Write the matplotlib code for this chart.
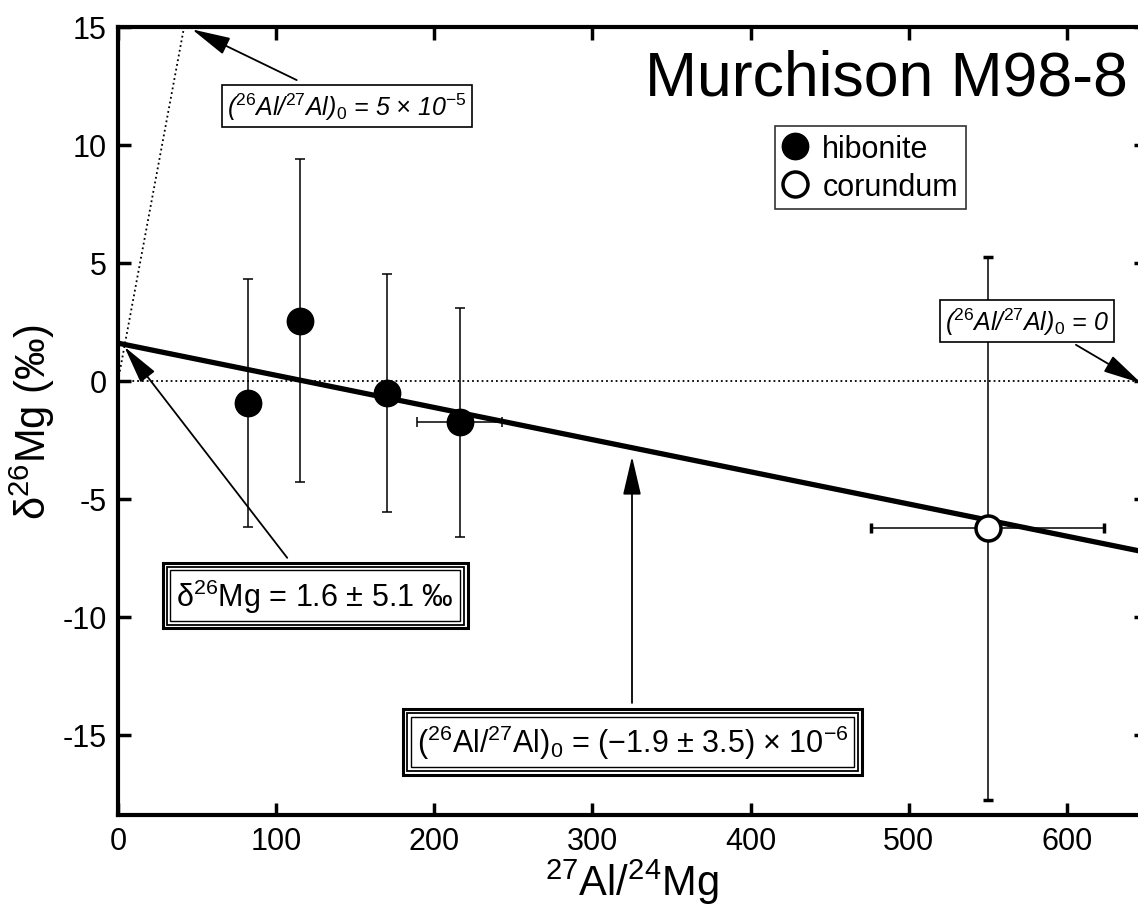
import numpy as np
import matplotlib
matplotlib.use("Agg")
import matplotlib.pyplot as plt

plt.rcParams["font.family"] = ["Liberation Sans", "DejaVu Sans"]
plt.rcParams["mathtext.fontset"] = "custom"
plt.rcParams["mathtext.rm"] = "Liberation Sans"
plt.rcParams["mathtext.it"] = "Liberation Sans:italic"
plt.rcParams["mathtext.bf"] = "Liberation Sans:bold"

# データ (hibonite / corundum)
hib_x = [82, 115, 170, 216]
hib_y = [-0.95, 2.55, -0.5, -1.75]
hib_xerr = [0, 0, 0, 26.7]
hib_yerr = [5.25, 6.85, 5.05, 4.85]

cor_x = [550]
cor_y = [-6.25]
cor_xerr = [73.7]
cor_yerr = [11.5]

intercept = 1.6
al_ratio_fit = -1.9e-6
al_ratio_ref = 5e-5
mg_ratio = 0.13932  # 26Mg/24Mg

xticks = [0, 100, 200, 300, 400, 500, 600]
yticks = [15, 10, 5, 0, -5, -10, -15]

fig = plt.figure(figsize=(11.38, 9.2), dpi=100)
ax = fig.add_axes([118 / 1138, 104 / 920, 1028 / 1138, 788 / 920])
ax.set_xlim(0, 650)
ax.set_ylim(-18.4, 15)

# 基準線
ax.axhline(0, color="k", linestyle=":", lw=1.3, zorder=1)
xs = np.array([0, 650])
ax.plot(xs, al_ratio_ref / mg_ratio * 1000 * xs, color="k", linestyle=":", lw=1.3, zorder=1)
ax.plot(xs, intercept + al_ratio_fit / mg_ratio * 1000 * xs, color="k", lw=3.8, zorder=2)

ax.errorbar(hib_x, hib_y, xerr=hib_xerr, yerr=hib_yerr, fmt="o", color="k",
            ms=19, elinewidth=1.1, capsize=3.6, capthick=1.1, zorder=3)
ax.errorbar(cor_x, cor_y, xerr=cor_xerr, yerr=cor_yerr, fmt="o", color="k",
            mfc="white", mec="k", mew=2.5, ms=18, elinewidth=1.1, capsize=3.6,
            capthick=1.1, zorder=3)

# 凡例
ax.plot([], [], "o", color="k", ms=19, label="hibonite")
ax.plot([], [], "o", mfc="white", mec="k", mew=2.5, ms=18, label="corundum")
handles, labels = ax.get_legend_handles_labels()
leg = ax.legend(handles[-2:], labels[-2:], loc="upper left", bbox_to_anchor=(0.639, 0.874),
                borderaxespad=0, fontsize=22, frameon=True, fancybox=False,
                handlelength=0.8, handletextpad=0.5, borderpad=0.25, labelspacing=0.25)
leg.get_frame().set_edgecolor("k")
leg.get_frame().set_linewidth(1.2)

# 矢印
arrow = dict(arrowstyle="-|>,head_length=1.2,head_width=0.28", color="k", lw=1.3,
             mutation_scale=20, shrinkA=0, shrinkB=0)
ax.annotate("", xy=(46.8, 14.9), xytext=(113, 12.75), arrowprops=arrow, annotation_clip=False)
ax.annotate("", xy=(647, -0.1), xytext=(605.7, 1.53), arrowprops=arrow, annotation_clip=False)
ax.annotate("", xy=(4, 1.45), xytext=(107, -7.5), arrowprops=arrow)
ax.annotate("", xy=(325, -3.2), xytext=(325, -13.65), arrowprops=arrow)

# ラベルボックス
def boxed(x, y, s, fs, style="normal", pads=(0.2,), lws=(1.2,)):
    for i, (p, w) in enumerate(zip(pads, lws)):
        ax.text(x, y, s, fontsize=fs, ha="center", va="center", style=style,
                color="k" if i == 0 else "none",
                bbox=dict(boxstyle=f"square,pad={p}", fc="white" if i == 0 else "none",
                          ec="k", lw=w), zorder=5 - i * 0.1)

sup = lambda s: r"$\mathregular{^{" + s + "}}$"
sub = lambda s: r"$\mathregular{_{" + s + "}}$"
isup = lambda s: r"$\mathit{^{" + s + "}}$"
isub = lambda s: r"$\mathit{_{" + s + "}}$"

boxed(144.6, 11.65, "(" + isup("26") + "Al/" + isup("27") + "Al)" + isub("0") + " = 5 × 10" + isup("-5"),
      18, style="italic")
boxed(574.7, 2.54, "(" + isup("26") + "Al/" + isup("27") + "Al)" + isub("0") + " = 0",
      18, style="italic")
boxed(124.7, -9.1, "δ" + sup("26") + "Mg = 1.6 ± 5.1 ‰", 22,
      pads=(0.2, 0.32, 0.45), lws=(1.0, 1.3, 2.2))
boxed(325.3, -15.3, "(" + sup("26") + "Al/" + sup("27") + "Al)" + sub("0") + " = (−1.9 ± 3.5) × 10" + sup("-6"), 22,
      pads=(0.2, 0.32, 0.45), lws=(1.0, 1.3, 2.2))

ax.text(0.982, 0.935, "Murchison M98-8", transform=ax.transAxes, fontsize=45,
        ha="right", va="center")

ax.set_xticks(xticks)
ax.set_yticks(yticks)
ax.set_yticklabels([str(t) for t in yticks])
ax.tick_params(direction="in", length=9, width=2.5, labelsize=22, top=True, right=True, pad=8)
for sp in ax.spines.values():
    sp.set_linewidth(3)

ax.set_xlabel(sup("27") + "Al/" + sup("24") + "Mg", fontsize=30, labelpad=0)
ax.set_ylabel("δ" + sup("26") + "Mg (‰)", fontsize=30, labelpad=4)

fig.savefig("out.png", dpi=100)
